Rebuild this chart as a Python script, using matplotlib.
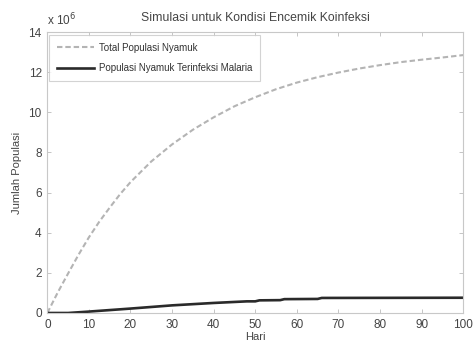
import numpy as np
import matplotlib
matplotlib.use('Agg')
import matplotlib.pyplot as plt

# populasi dalam juta (x 10^6)
hari_total = [0, 2.5, 5, 7.5, 10, 12.5, 15, 17.5, 20, 25, 30, 35, 40, 45, 50,
              55, 60, 65, 70, 75, 80, 85, 90, 95, 100]
total_nyamuk = [0, 1.02, 1.97, 2.90, 3.77, 4.55, 5.25, 5.92, 6.52, 7.55, 8.40,
                9.13, 9.75, 10.30, 10.75, 11.15, 11.48, 11.75, 11.98, 12.18,
                12.35, 12.50, 12.62, 12.73, 12.85]

hari_infeksi = [0, 5, 10, 20, 30, 40, 48, 50, 51, 56, 57, 65, 66, 100]
nyamuk_infeksi = [0, 0, 0.07, 0.22, 0.38, 0.50, 0.58, 0.58, 0.63, 0.64, 0.69,
                  0.70, 0.75, 0.76]

plt.rcParams['font.family'] = ['Liberation Sans', 'DejaVu Sans']

fig = plt.figure(figsize=(4.76, 3.48), dpi=100)
ax = fig.add_axes([0.0994, 0.1006, 0.8736, 0.8074])

ax.plot(hari_total, total_nyamuk, linestyle='--', color='#b4b4b4', linewidth=1.5,
        dashes=(2.6, 1.4), label='Total Populasi Nyamuk')
ax.plot(hari_infeksi, nyamuk_infeksi, linestyle='-', color='#2a2a2a', linewidth=1.9,
        label='Populasi Nyamuk Terinfeksi Malaria')

ax.set_xlim(0, 100)
ax.set_ylim(0, 14)
ax.set_xticks(np.arange(0, 101, 10))
ax.set_yticks(np.arange(0, 15, 2))
ax.tick_params(direction='in', top=True, right=True, length=3, width=0.6,
               labelsize=8.5, colors='#bbbbbb', labelcolor='#444444', pad=4)
for s in ax.spines.values():
    s.set_color('#c8c8c8')
    s.set_linewidth(0.8)

ax.set_title('Simulasi untuk Kondisi Encemik Koinfeksi', fontsize=8.8,
             color='#444444', pad=8)
ax.set_xlabel('Hari', fontsize=8, color='#444444', labelpad=1)
ax.set_ylabel('Jumlah Populasi', fontsize=8, color='#444444', labelpad=5)
ax.text(0.0, 1.015, 'x 10$^6$', transform=ax.transAxes, fontsize=8.5,
        color='#444444', ha='left', va='bottom')

leg = ax.legend(loc='upper left', fontsize=7, handlelength=3.8, handletextpad=0.5,
                borderpad=0.8, labelspacing=1.1, fancybox=False,
                bbox_to_anchor=(0.005, 0.99), borderaxespad=0)
leg.get_frame().set_edgecolor('#c8c8c8')
leg.get_frame().set_linewidth(0.8)
for t in leg.get_texts():
    t.set_color('#333333')

fig.savefig('out.png', dpi=100)
